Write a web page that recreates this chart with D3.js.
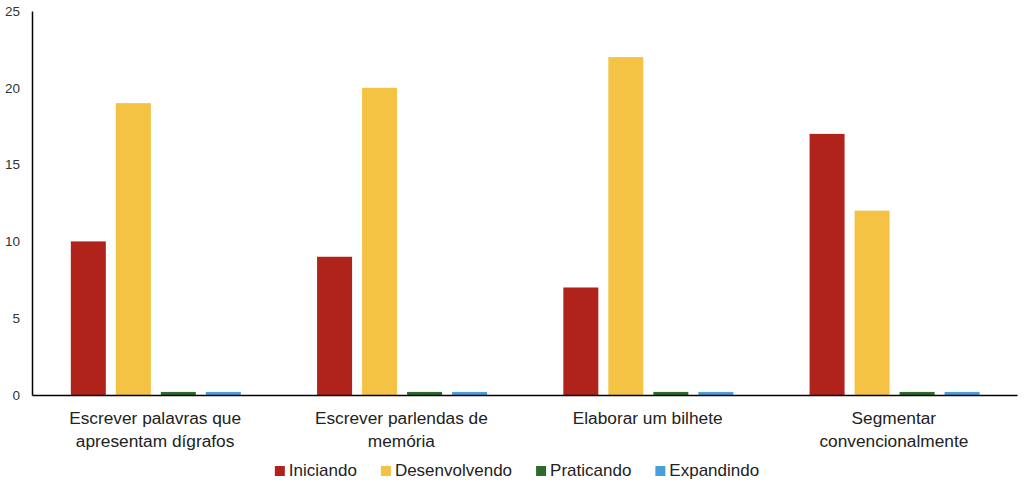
<!DOCTYPE html>
<html>
<head>
<meta charset="utf-8">
<script src="https://cdn.jsdelivr.net/npm/d3@7"></script>
<style>
  html, body { margin: 0; padding: 0; background: #fff; }
  svg { display: block; font-family: "Liberation Sans", Arial, sans-serif; }
</style>
</head>
<body>
<div id="chart"></div>
<script>
// data
const categories = [
  ["Escrever palavras que", "apresentam dígrafos"],
  ["Escrever parlendas de", "memória"],
  ["Elaborar um bilhete"],
  ["Segmentar", "convencionalmente"]
];
const seriesNames = ["Iniciando", "Desenvolvendo", "Praticando", "Expandindo"];
const seriesColors = ["#b0231b", "#f5c344", "#2d6a2e", "#4a9fd8"];
const iniciando = [10, 9, 7, 17];
const desenvolvendo = [19, 20, 22, 12];
const praticando = [0.2, 0.2, 0.2, 0.2];
const expandindo = [0.2, 0.2, 0.2, 0.2];
const yTicks = [0, 5, 10, 15, 20, 25];

const W = 1024, H = 488;
const plot = { left: 32, right: 1017, top: 11, bottom: 395 };

const svg = d3.select("#chart").append("svg")
  .attr("width", W).attr("height", H);

const x = d3.scaleBand()
  .domain(d3.range(categories.length))
  .range([plot.left, plot.right]);

const x1 = d3.scaleBand()
  .domain(seriesNames)
  .range([0, 35 * 4 + 10 * 3])
  .paddingInner(10 / 45);

const y = d3.scaleLinear().domain([0, 25]).range([plot.bottom, plot.top]);

const values = [iniciando, desenvolvendo, praticando, expandindo];
const rows = [];
categories.forEach((c, i) => {
  seriesNames.forEach((s, j) => rows.push({ cat: i, series: s, color: seriesColors[j], value: values[j][i] }));
});

const groupW = x1.range()[1];
svg.append("g").selectAll("rect")
  .data(rows)
  .join("rect")
  .attr("x", d => x(d.cat) + (x.bandwidth() - groupW) / 2 + x1(d.series) + 0.7)
  .attr("y", d => y(d.value))
  .attr("width", x1.bandwidth())
  .attr("height", d => y(0) - y(d.value))
  .attr("fill", d => d.color);

// y axis
const yAxis = svg.append("g")
  .attr("transform", `translate(${plot.left},0)`)
  .call(d3.axisLeft(y).tickValues(yTicks).tickSize(0).tickPadding(12));
yAxis.select(".domain").attr("stroke", "#000").attr("stroke-width", 1.5);
yAxis.selectAll("text").attr("font-size", "13.5px").attr("fill", "#333")
  .attr("font-family", "'Liberation Sans', Arial, sans-serif");

// x axis
const xAxis = svg.append("g")
  .attr("transform", `translate(0,${plot.bottom})`)
  .call(d3.axisBottom(x).tickSize(0).tickFormat(""));
xAxis.select(".domain").attr("stroke", "#000").attr("stroke-width", 1.5);

const labels = svg.append("g").selectAll("text")
  .data(categories)
  .join("text")
  .attr("x", (d, i) => x(i) + x.bandwidth() / 2)
  .attr("y", 424)
  .attr("text-anchor", "middle")
  .attr("font-size", "17.3px")
  .attr("fill", "#222");
labels.each(function (d) {
  const t = d3.select(this);
  d.forEach((line, k) => {
    t.append("tspan").attr("x", t.attr("x")).attr("dy", k === 0 ? 0 : 23).text(line);
  });
});

// legend
const legend = svg.append("g");
const items = legend.selectAll("g")
  .data(seriesNames)
  .join("g");
items.append("rect")
  .attr("width", 10).attr("height", 10)
  .attr("y", -10)
  .attr("fill", (d, i) => seriesColors[i]);
items.append("text")
  .attr("x", 14)
  .attr("y", 0)
  .attr("font-size", "17px")
  .attr("fill", "#222")
  .text(d => d);
let cx = 0;
items.each(function () {
  const g = d3.select(this);
  g.attr("transform", `translate(${cx},476)`);
  cx += 14 + g.select("text").node().getComputedTextLength() + 24;
});
const totalW = cx - 24;
legend.attr("transform", `translate(${517 - totalW / 2},0)`);
</script>
</body>
</html>
